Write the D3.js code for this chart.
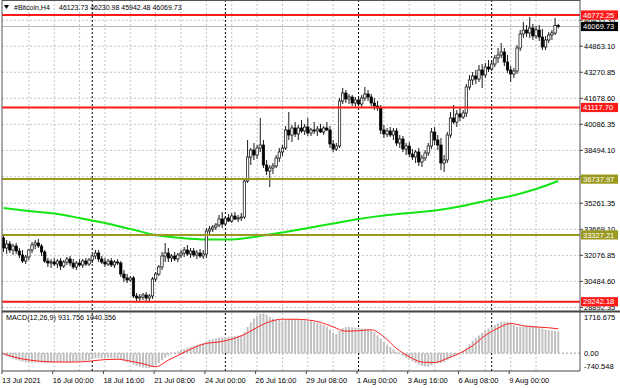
<!DOCTYPE html>
<html><head><meta charset="utf-8">
<script src="https://cdn.jsdelivr.net/npm/d3@7"></script>
<style>body{margin:0;background:#fff}svg{display:block}text{font-family:"Liberation Sans",Arial,sans-serif}</style>
</head><body><svg id="c" width="620" height="388"></svg>
<script>
const symbol = "#Bitcoin,H4";
const headerOHLC = ["46123.73","46230.98","45942.48","46069.73"];
const opens = [33138,32526,32771,32404,32648,32343,32098,31731,31976,32404,
32710,32832,32648,32282,31731,31609,31671,31548,31731,31426,
31671,31854,31609,31365,31609,31487,31731,31548,31793,32037,
32221,31854,31671,31548,31731,31487,31671,31609,30937,30693,
30570,30693,29592,29469,29531,29653,29469,29592,30631,30937,
31365,32037,32221,31915,32037,31854,32098,32221,32404,32159,
32343,32098,32221,32037,32159,33566,33688,33810,33933,34299,
33993,34360,34177,34483,34299,34360,34421,36623,38090,38518,
38212,38640,38824,37601,37234,37418,37540,38029,38396,38640,
39741,39435,39863,39496,39863,39680,39924,39558,39741,39680,
39802,39619,39863,39741,38885,38579,38763,41514,42003,41636,
41759,41392,41575,41330,41697,41942,41759,41392,41208,41086,
39741,39496,39680,39435,39680,38946,39191,38579,38763,38273,
38090,38396,37785,38029,38335,38763,39619,39129,38824,37723,
37907,39435,40475,40230,40719,40536,40780,42370,42798,43042,
42859,43409,43104,43593,43470,43776,44143,44326,44510,43898,
43409,43165,43348,44754,45610,45855,45671,45977,45488,45855,
45427,44815,45243,45549,45671,46123.73];
const highs = [33382,33015,32954,32771,32832,32526,32404,32098,32465,32893,
33015,33076,32771,32404,31915,31854,31915,31854,31915,31793,
31976,32037,31854,31731,31854,31854,31915,31915,32159,32404,
32404,32037,31915,31854,31915,31793,31854,31731,31181,30937,
30815,30815,29775,29714,29775,29836,29714,30754,31059,31487,
32282,32832,32526,32159,32282,32221,32404,32587,32710,32526,
32526,32404,32465,32404,33749,33871,33933,34055,34544,34727,
34483,34605,34666,34727,34544,34666,36806,39129,38640,38946,
38824,40474,39129,37907,37601,37723,38212,38640,38824,39985,
40842,40047,40230,40047,40352,40108,40475,39863,40230,39985,
40108,39985,40230,39985,39129,38946,41697,42309,42186,41942,
41881,41759,41820,41881,42370,42186,41942,41697,41514,41270,
40047,39863,39924,39863,39863,39435,39374,38946,39007,38579,
38518,38640,38212,38518,38946,39863,39924,39435,39252,38212,
39619,40842,41270,40964,41086,40964,42553,43104,43287,43409,
43715,43776,43837,44021,43960,44326,44754,45060,44754,44326,
43654,43531,44938,45855,46344,46161,46650,46222,46100,46161,
45916,45488,45733,45855,46589,46230.98];
const lows = [32282,32159,32221,32098,32159,31915,31609,31548,31793,32221,
32465,32526,32037,31609,31365,31304,31426,31304,31181,31304,
31487,31426,31242,31181,31365,31304,31426,31426,31609,31854,
31671,31548,31365,31426,31365,31304,31487,30754,30448,30387,
30448,29469,29286,29225,29347,29286,29225,29408,30448,30815,
31181,31671,31671,31671,31731,31671,31915,31976,32037,31915,
31976,31854,31915,31854,31915,33382,33504,33627,33810,33749,
33871,34116,34055,34238,34116,34177,34299,36500,37601,37907,
37968,38396,37418,36990,36256,37051,37418,37785,38151,38518,
39129,39007,39313,39129,39558,39435,39374,39374,39496,39374,
39558,39435,39680,38640,38396,38457,38640,41330,41392,41330,
41208,41086,41208,41147,41514,41514,41208,40964,40903,39496,
39252,39313,39313,39129,38763,38640,38396,38212,38090,37907,
37723,37540,37479,37846,38151,38579,38824,38518,37295,37173,
37723,39252,40108,39924,40291,40414,40536,42186,42492,42553,
42676,42309,42920,43287,43348,43593,43837,44143,43654,43226,
42676,42920,43165,44571,45366,45427,45366,45243,45305,45182,
44632,44632,45060,45243,45549,45942.48];
const closes = [32526,32771,32404,32648,32343,32098,31731,31976,32404,32710,
32832,32648,32282,31731,31609,31671,31548,31731,31426,31671,
31854,31609,31365,31609,31487,31731,31548,31793,32037,32221,
31854,31671,31548,31731,31487,31671,31609,30937,30693,30570,
30693,29592,29469,29531,29653,29469,29592,30631,30937,31365,
32037,32221,31915,32037,31854,32098,32221,32404,32159,32343,
32098,32221,32037,32159,33566,33688,33810,33933,34299,33993,
34360,34177,34483,34299,34360,34421,36623,38090,38518,38212,
38640,38824,37601,37234,37418,37540,38029,38396,38640,39741,
39435,39863,39496,39863,39680,39924,39558,39741,39680,39802,
39619,39863,39741,38885,38579,38763,41514,42003,41636,41759,
41392,41575,41330,41697,41942,41759,41392,41208,41086,39741,
39496,39680,39435,39680,38946,39191,38579,38763,38273,38090,
38396,37785,38029,38335,38763,39619,39129,38824,37723,37907,
39435,40475,40230,40719,40536,40780,42370,42798,43042,42859,
43409,43104,43593,43470,43776,44143,44326,44510,43898,43409,
43165,43348,44754,45610,45855,45671,45977,45488,45855,45427,
44815,45243,45549,45671,46124,46069.73];
const maIdx = [0,8,16,24,32,40,48,56,64,72,80,88,96,104,112,120,128,136,144,152,160,168,175];
const maVals = [34972,34788,34636,34360,34055,33688,33321,33138,33046,33046,33229,33474,33749,34024,34299,34513,34666,34819,35064,35400,35706,36134,36623];
const macdMain = [-80,-140,-190,-240,-280,-320,-360,-390,-410,-410,
-400,-390,-400,-420,-420,-410,-400,-390,-390,-380,
-370,-370,-380,-370,-350,-340,-320,-290,-250,-210,
-200,-200,-210,-210,-220,-230,-240,-290,-340,-380,
-410,-480,-540,-580,-610,-630,-640,-600,-520,-420,
-300,-190,-100,-30,30,80,130,180,230,280,
320,360,400,430,500,560,600,630,660,680,
690,700,720,730,750,760,900,1120,1320,1480,
1600,1680,1700,1650,1560,1480,1440,1420,1400,1430,
1460,1460,1450,1440,1430,1410,1390,1360,1330,1300,
1260,1200,1140,1010,880,820,950,1070,1110,1120,
1110,1090,1080,1050,1050,1030,980,900,760,620,
480,370,260,160,60,-20,-110,-200,-280,-350,
-420,-490,-540,-570,-580,-520,-460,-420,-420,-390,
-300,-200,-120,-50,20,90,230,380,520,640,
760,870,960,1050,1130,1200,1270,1330,1350,1340,
1280,1200,1130,1120,1150,1170,1180,1160,1140,1110,
1050,1010,990,970,950,931.756];
const sigIdx = [0,4,8,12,16,20,24,28,32,36,40,44,48,52,56,60,64,68,72,76,80,84,88,92,96,100,104,108,112,116,120,124,128,132,136,140,144,148,152,156,160,164,168,172,175];
const sigVals = [-20,-190,-290,-350,-375,-380,-375,-330,-275,-260,-340,-450,-580,-300,-30,230,420,480,600,800,1100,1350,1450,1450,1420,1320,1120,940,960,1000,700,200,-150,-380,-400,-220,0,320,760,1070,1270,1170,1120,1085,1040.356];
const macdMax = 1716.675, macdMin = -740.548;
const priceTicks = [46455.35,44863.10,43270.85,41678.60,40086.35,38494.10,36877.73,35261.35,33669.10,32076.85,30484.60,28892.35];
const hiddenTick = 36877.73;
const redLevels = [46772.25,41117.70,29242.18];
const oliveLevels = [36737.97,33327.21];
const bidPrice = 46069.73;
const timeTickIdx = [0,16,32,48,64,80,96,112,128,144,160];
const timeTickLabels = ["13 Jul 2021","16 Jul 00:00","18 Jul 16:00","21 Jul 08:00","24 Jul 00:00","26 Jul 16:00","29 Jul 08:00","1 Aug 00:00","3 Aug 16:00","6 Aug 08:00","9 Aug 00:00"];
const separatorIdx = [28,70,112,154];

const svg = d3.select("#c");
const L = 2, R = 580, MT = 0, MB = 310, ST = 313, SB = 371;
const x = d3.scaleLinear().domain([0,175]).range([3.5,558.25]);
const y = d3.scaleLinear().domain([28736,47689]).range([MB,MT]);
const ym = d3.scaleLinear().domain([macdMin,macdMax]).range([370.5,313]);
const FS = 7.5;

svg.append("rect").attr("width",620).attr("height",388).attr("fill","#fff");

const g = svg.append("g");
priceTicks.forEach(p=>{
  g.append("line").attr("x1",L).attr("x2",R).attr("y1",y(p)).attr("y2",y(p))
   .attr("stroke","#c4c4c4").attr("stroke-dasharray","2,2").attr("stroke-width",1);
});
d3.range(8,176,8).forEach(i=>{
  [[MT,MB],[ST,SB]].forEach(([a,b])=>{
    g.append("line").attr("x1",x(i)).attr("x2",x(i)).attr("y1",a).attr("y2",b)
     .attr("stroke","#c4c4c4").attr("stroke-dasharray","2,2");
  });
});
g.append("line").attr("x1",L).attr("x2",R).attr("y1",ym(0)).attr("y2",ym(0))
 .attr("stroke","#9a9a9a").attr("stroke-dasharray","2,2");
separatorIdx.forEach(i=>{
  [[MT,MB],[ST,SB]].forEach(([a,b])=>{
    g.append("line").attr("x1",x(i)).attr("x2",x(i)).attr("y1",a).attr("y2",b)
     .attr("stroke","#000").attr("stroke-dasharray","2,2");
  });
});
svg.append("line").attr("x1",L).attr("x2",R).attr("y1",y(bidPrice)).attr("y2",y(bidPrice))
 .attr("stroke","#b8b8b8").attr("stroke-width",1);

svg.append("path").datum(maIdx.map((d,k)=>[d,maVals[k]]))
 .attr("d",d3.line().x(d=>x(d[0])).y(d=>y(d[1])).curve(d3.curveMonotoneX))
 .attr("fill","none").attr("stroke","#14e614").attr("stroke-width",2);

const cg = svg.append("g");
closes.forEach((c,i)=>{
  const o = opens[i], xi = x(i);
  cg.append("line").attr("x1",xi).attr("x2",xi).attr("y1",y(highs[i])).attr("y2",y(lows[i]))
    .attr("stroke","#000").attr("stroke-width",0.9);
  const top = y(Math.max(o,c)), bot = y(Math.min(o,c));
  cg.append("rect").attr("x",xi-1.2).attr("width",2.4).attr("y",top).attr("height",Math.max(0.6,bot-top))
    .attr("fill", c>=o ? "#fff" : "#000").attr("stroke","#000").attr("stroke-width",0.7);
});

redLevels.forEach(p=>svg.append("line").attr("x1",L).attr("x2",R).attr("y1",y(p)).attr("y2",y(p))
  .attr("stroke","#ff1a1a").attr("stroke-width",2));
oliveLevels.forEach(p=>svg.append("line").attr("x1",L).attr("x2",R).attr("y1",y(p)).attr("y2",y(p))
  .attr("stroke","#9c9a1e").attr("stroke-width",2));

const mg = svg.append("g");
macdMain.forEach((v,i)=>{
  mg.append("line").attr("x1",x(i)).attr("x2",x(i)).attr("y1",ym(0)).attr("y2",ym(v))
    .attr("stroke","#c0c0c0").attr("stroke-width",2);
});
svg.append("path").datum(sigIdx.map((d,k)=>[d,sigVals[k]]))
 .attr("d",d3.line().x(d=>x(d[0])).y(d=>ym(d[1])).curve(d3.curveMonotoneX))
 .attr("fill","none").attr("stroke","#ff2020").attr("stroke-width",1);

svg.append("line").attr("x1",L).attr("x2",R).attr("y1",0.5).attr("y2",0.5).attr("stroke","#555");
svg.append("line").attr("x1",L).attr("x2",L).attr("y1",0).attr("y2",SB).attr("stroke","#555");
svg.append("line").attr("x1",R).attr("x2",R).attr("y1",0).attr("y2",SB).attr("stroke","#555");
svg.append("line").attr("x1",L).attr("x2",620).attr("y1",311.5).attr("y2",311.5).attr("stroke","#444").attr("stroke-width",2);
svg.append("line").attr("x1",L).attr("x2",R).attr("y1",SB).attr("y2",SB).attr("stroke","#444");

priceTicks.forEach(p=>{
  svg.append("line").attr("x1",R).attr("x2",R+3).attr("y1",y(p)).attr("y2",y(p)).attr("stroke","#444");
  if (p===hiddenTick) return;
  svg.append("text").attr("x",584).attr("y",y(p)+2.7).attr("font-size",FS).attr("fill","#000").text(p.toFixed(2));
});
function box(p, col){
  svg.append("rect").attr("x",581).attr("y",y(p)-4.6).attr("width",37).attr("height",9.2).attr("fill",col);
  svg.append("text").attr("x",583).attr("y",y(p)+2.7).attr("font-size",FS).attr("fill","#fff").text(p.toFixed(2));
}
redLevels.forEach(p=>box(p,"#ff1a1a"));
oliveLevels.forEach(p=>box(p,"#9c9a1e"));
box(bidPrice,"#000");

[[macdMax, ym(macdMax)+7],[0, ym(0)+2.7],[macdMin, ym(macdMin)-1.5]].forEach(([v,yy])=>{
  svg.append("text").attr("x",584).attr("y",yy).attr("font-size",FS).attr("fill","#000")
    .text(v===0 ? "0.00" : String(v));
});

timeTickIdx.forEach((i,k)=>{
  const xx = x(i)-1.5;
  svg.append("line").attr("x1",xx).attr("x2",xx).attr("y1",SB).attr("y2",SB+3).attr("stroke","#444");
  svg.append("text").attr("x",xx).attr("y",383).attr("font-size",FS).attr("fill","#000").text(timeTickLabels[k]);
});

svg.append("path").attr("d","M4,5 L9,5 L6.5,9 Z").attr("fill","#000");
svg.append("text").attr("x",14).attr("y",9.5).attr("font-size",7).attr("fill","#000").text(symbol);
svg.append("text").attr("x",59).attr("y",9.5).attr("font-size",7).attr("fill","#000").text(headerOHLC.join(" "));
svg.append("text").attr("x",6).attr("y",320).attr("font-size",7.2).attr("fill","#000")
  .text("MACD(12,26,9) " + macdMain[macdMain.length-1] + " " + sigVals[sigVals.length-1]);
</script></body></html>
